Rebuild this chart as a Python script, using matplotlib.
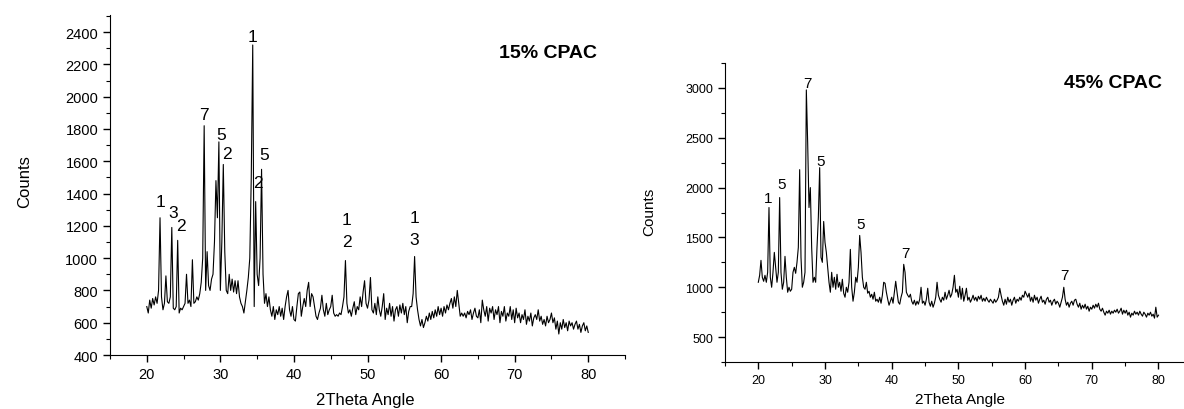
import numpy as np
import matplotlib.pyplot as plt
from matplotlib.ticker import MultipleLocator

plt.rcParams['font.family'] = ['Liberation Sans', 'DejaVu Sans']

# scan step 0.2 deg, 20..80 deg
theta = np.round(np.arange(20, 80.01, 0.2), 1)

# 15% CPAC counts
counts15 = [
    700, 660, 740, 690, 750,
    710, 760, 720, 800, 1250,
    760, 680, 720, 890, 730,
    720, 760, 1190, 690, 680,
    700, 1110, 660, 690, 680,
    700, 720, 900, 720, 740,
    700, 990, 720, 730, 760,
    740, 780, 850, 1000, 1820,
    800, 1040, 830, 800, 870,
    900, 1100, 1480, 1250, 1720,
    800, 1100, 1580, 1040, 800,
    780, 900, 800, 870, 790,
    860, 780, 860, 760, 720,
    700, 660, 730, 800, 880,
    1000, 1500, 2320, 700, 1350,
    900, 830, 1000, 1550, 900,
    720, 780, 700, 760, 680,
    640, 700, 620, 680, 650,
    700, 640, 690, 620, 700,
    760, 800, 680, 640, 700,
    620, 610, 700, 780, 790,
    640, 700, 750, 700, 800,
    850, 700, 780, 760, 700,
    640, 620, 660, 690, 770,
    680, 640, 720, 650, 680,
    700, 770, 660, 640, 650,
    640, 660, 650, 700, 760,
    985, 720, 660, 680, 640,
    690, 730, 650, 700, 680,
    760, 700, 790, 860, 720,
    690, 740, 880, 680, 660,
    720, 650, 760, 680, 640,
    700, 780, 620, 690, 650,
    720, 640, 700, 610, 680,
    700, 640, 710, 660, 720,
    650, 700, 600, 670, 700,
    700, 780, 1010, 760, 680,
    620, 580, 620, 570, 600,
    640, 610, 660, 620, 670,
    630, 680, 640, 700, 650,
    690, 640, 700, 660, 710,
    680, 720, 750, 690, 760,
    700, 800, 720, 640, 660,
    640, 660, 630, 670, 650,
    680, 620, 660, 690, 640,
    630, 680, 600, 740, 680,
    640, 700, 610, 690, 660,
    700, 620, 680, 650, 700,
    600, 670, 640, 700, 610,
    660, 640, 700, 620, 680,
    600, 690, 630, 660, 600,
    650, 620, 680, 590, 640,
    610, 660, 580, 630, 650,
    620, 680, 610, 640, 590,
    620, 580, 640, 600, 620,
    660, 600, 630, 560, 610,
    530, 600, 560, 620, 570,
    600, 550, 610, 580, 600,
    560, 590, 610, 560, 590,
    540, 580, 600, 550, 580,
    540,
]

# 45% CPAC counts
counts45 = [
    1050, 1120, 1270, 1100, 1060,
    1120, 1050, 1150, 1800, 1100,
    1000, 1150, 1350, 1200, 1050,
    1150, 1900, 1150, 980, 1050,
    1310, 1100, 950, 1000, 960,
    980, 1150, 1200, 1140, 1250,
    1400, 2180, 1300, 1000, 1050,
    1150, 2980, 2450, 1800, 2000,
    1400, 1050, 1100, 1050, 1400,
    1700, 2200, 1300, 1250, 1660,
    1450, 1350, 1200, 1050, 950,
    1150, 1000, 1100, 980, 1130,
    1000, 1050, 960, 1080, 940,
    900, 1000, 950, 1050, 1380,
    1000, 860, 950, 1100, 1050,
    1200, 1520, 1350, 1100, 1000,
    980, 1050, 940, 960, 900,
    930, 880, 950, 860, 880,
    850, 900, 840, 920, 1050,
    1040, 950, 880, 820, 860,
    900, 840, 950, 1060, 950,
    850, 830, 900, 950, 1230,
    1150, 950, 920, 900, 930,
    860, 830, 870, 820, 860,
    830, 880, 1000, 840, 860,
    820, 880, 990, 850, 810,
    860, 800, 840, 900, 1050,
    920, 880, 850, 900, 870,
    950, 880, 920, 970, 900,
    930, 1000, 1120, 950, 980,
    900, 1010, 880, 990, 860,
    920, 990, 870, 900, 850,
    880, 920, 870, 900, 860,
    910, 880, 920, 860, 890,
    860, 900, 870, 850, 880,
    860, 840, 880, 850, 870,
    900, 990, 920, 860, 820,
    880, 830, 900, 850, 880,
    820, 870, 900, 840, 880,
    860, 900, 870, 920, 900,
    960, 930, 900, 940, 860,
    900, 850, 920, 870, 900,
    840, 880, 910, 850, 870,
    830, 880, 900, 850, 870,
    820, 860, 880, 830, 860,
    840, 800, 850, 900, 1000,
    880, 820, 850, 800, 840,
    860, 820, 870, 880, 830,
    800, 840, 780, 820, 790,
    830, 780, 810, 760, 800,
    780, 820, 790, 830, 800,
    840, 780, 760, 790, 750,
    720, 760, 740, 770, 730,
    760, 740, 770, 750, 780,
    740, 760, 790, 730, 770,
    740, 770, 720, 750, 700,
    740, 720, 760, 730, 750,
    720, 760, 730, 710, 750,
    730, 700, 740, 720, 750,
    710, 730, 690, 800, 700,
    720,
]

# peak labels: (text, 2theta, counts)
labels15 = [("1", 21.9, 1353), ("3", 23.6, 1285), ("2", 24.7, 1200),
            ("7", 27.8, 1892), ("5", 30.1, 1768), ("2", 30.9, 1650),
            ("1", 34.4, 2375), ("2", 35.1, 1471), ("5", 36.0, 1644),
            ("1", 47.2, 1242), ("2", 47.2, 1106),
            ("1", 56.4, 1254), ("3", 56.4, 1118)]
labels45 = [("1", 21.45, 1897), ("5", 23.45, 2040), ("7", 27.3, 3047),
            ("5", 29.3, 2263), ("5", 35.4, 1630), ("7", 42.0, 1340),
            ("7", 65.9, 1120)]

fig = plt.figure(figsize=(11.84, 4.10), dpi=100)
ax1 = fig.add_axes([0.0929, 0.1317, 0.435, 0.829])
ax2 = fig.add_axes([0.6123, 0.1146, 0.387, 0.7293])


def style(ax, ymaj, ymin, lsize):
    for s in ("top", "right"):
        ax.spines[s].set_visible(False)
    ax.xaxis.set_major_locator(MultipleLocator(10))
    ax.xaxis.set_minor_locator(MultipleLocator(5))
    ax.yaxis.set_major_locator(MultipleLocator(ymaj))
    ax.yaxis.set_minor_locator(MultipleLocator(ymin))
    ax.tick_params(which="major", direction="out", length=5, width=1,
                   labelsize=lsize)
    ax.tick_params(which="minor", direction="out", length=3, width=0.8)


ax1.plot(theta, counts15, color="black", lw=0.8)
ax1.set_xlim(15, 85)
ax1.set_ylim(400, 2505)
style(ax1, 200, 100, 10.5)
ax1.set_xlabel("2Theta Angle", fontsize=12)
ax1.set_ylabel("Counts", fontsize=12)
ax1.xaxis.set_label_coords(0.495, -0.108)
ax1.yaxis.set_label_coords(-0.152, 0.512)
ax1.text(0.85, 0.891, "15% CPAC", transform=ax1.transAxes, fontsize=14,
         fontweight="bold", ha="center", va="center")
for t, x, y in labels15:
    ax1.text(x, y, t, fontsize=12.5, ha="center", va="center")

ax2.plot(theta, counts45, color="black", lw=0.8)
ax2.set_xlim(15, 83.7)
ax2.set_ylim(250, 3250)
style(ax2, 500, 250, 9)
ax2.set_xlabel("2Theta Angle", fontsize=11)
ax2.set_ylabel("Counts", fontsize=11)
ax2.xaxis.set_label_coords(0.513, -0.1)
ax2.yaxis.set_label_coords(-0.149, 0.505)
ax2.text(0.847, 0.936, "45% CPAC", transform=ax2.transAxes, fontsize=14,
         fontweight="bold", ha="center", va="center")
for t, x, y in labels45:
    ax2.text(x, y, t, fontsize=11, ha="center", va="center")

fig.savefig("out.png", dpi=100)
